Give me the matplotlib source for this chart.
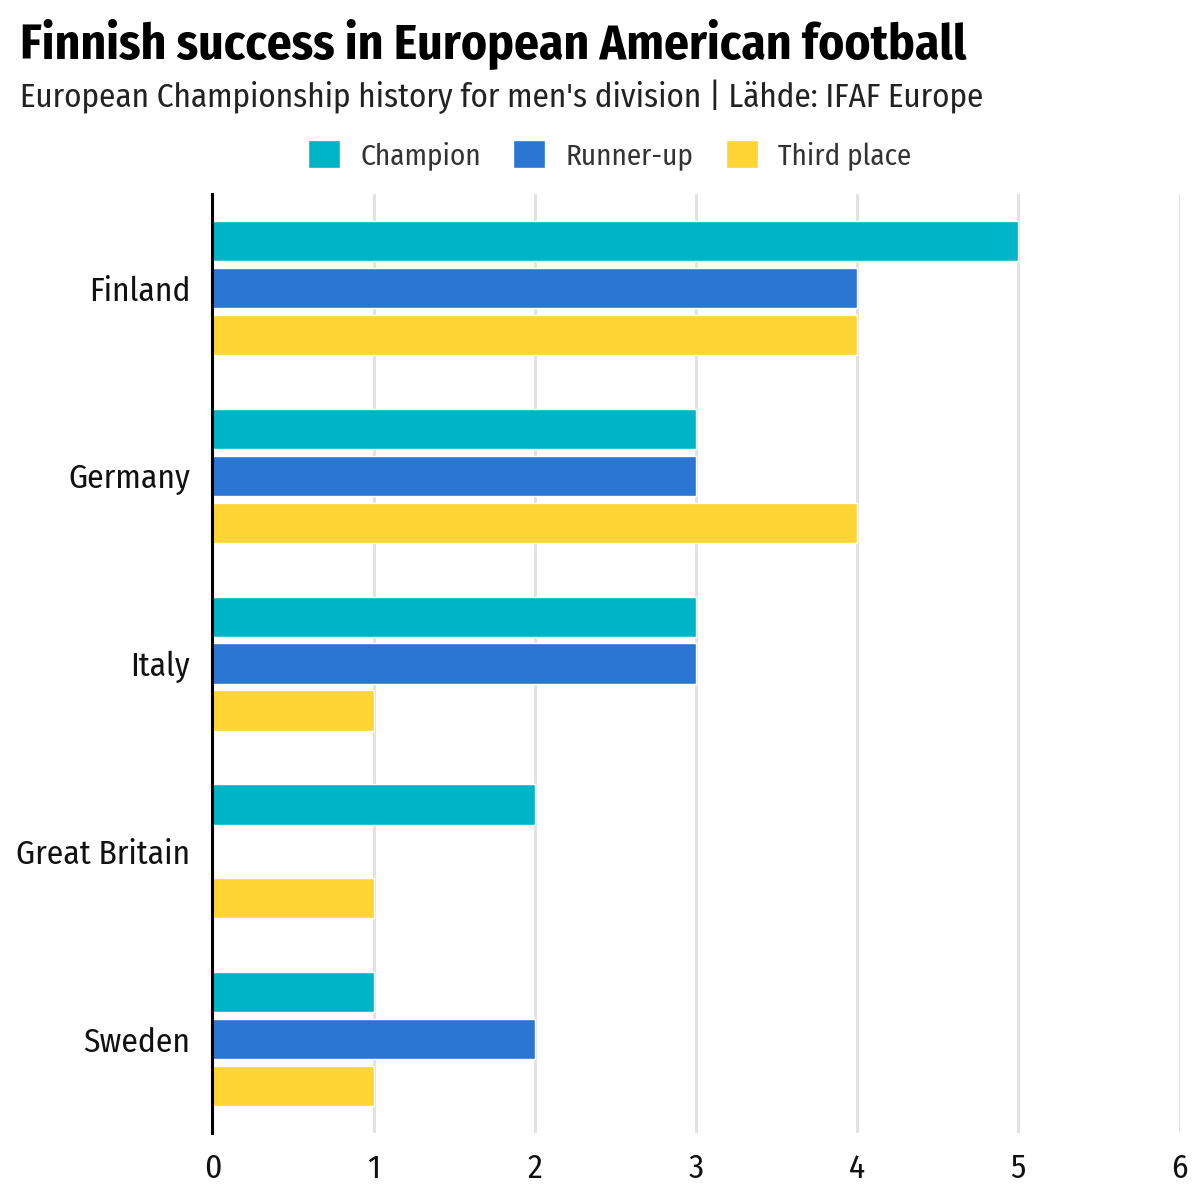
import matplotlib
matplotlib.use("Agg")
from matplotlib import pyplot as plt
import numpy as np

plt.rcParams['font.family'] = ['Fira Sans Condensed', 'DejaVu Sans']

countries = ["Finland", "Germany", "Italy", "Great Britain", "Sweden"]
champion = [5, 3, 3, 2, 1]
runner_up = [4, 3, 3, 0, 2]
third = [4, 4, 1, 1, 1]

series = [("Champion", champion, "#00B4C8"),
          ("Runner-up", runner_up, "#2B76D2"),
          ("Third place", third, "#FFD535")]

fig = plt.figure(figsize=(12, 12), dpi=100)
ax = fig.add_axes([0.177, 0.056, 0.806, 0.782])

y = np.arange(len(countries))
for i, (label, vals, color) in enumerate(series):
    ax.barh(y + (i - 1) * 0.25, vals, height=0.215, color=color,
            edgecolor="white", linewidth=1, label=label, zorder=3)

ax.set_ylim(4.5, -0.5)
ax.set_xlim(0, 6)
ax.set_yticks(y)
ax.set_yticklabels(countries, fontsize=24, color="#111111")
ax.set_xticks(range(7))
ax.set_xticklabels([str(v) for v in range(7)], fontsize=24, color="#111111")
ax.tick_params(axis="x", length=0, pad=14)
ax.tick_params(axis="y", length=0, pad=16)
ax.grid(axis="x", color="#e2e2e2", linewidth=2.2, zorder=0)
for s in ax.spines.values():
    s.set_visible(False)
ax.axvline(0, color="black", linewidth=2.2, zorder=4, clip_on=False)

fig.text(0.017, 0.963, "Finnish success in European American football",
         fontsize=35.5, fontweight="bold", va="center")
fig.text(0.017, 0.919, "European Championship history for men's division | Lähde: IFAF Europe",
         fontsize=23.8, va="center", color="#222222")

fig.legend(loc="center", bbox_to_anchor=(0.508, 0.871), ncol=3, frameon=False,
           prop={"size": 21}, handlelength=1.1, handleheight=1.1,
           columnspacing=1.1, handletextpad=0.7, labelcolor="#333333")

fig.savefig("out.png", dpi=100)
